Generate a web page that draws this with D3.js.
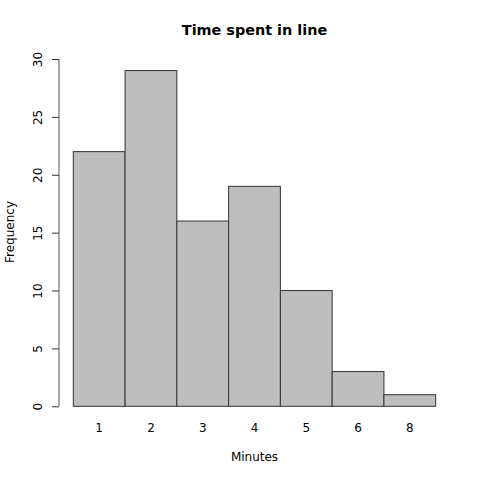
<!DOCTYPE html>
<html><head><meta charset="utf-8">
<script src="https://cdn.jsdelivr.net/npm/d3@7"></script>
<style>body{margin:0;background:#fff}svg{display:block}text{font-family:"DejaVu Sans",sans-serif}</style>
</head><body>
<svg id="c" width="480" height="480"></svg>
<script>
const categories = ["1","2","3","4","5","6","8"];
const values = [22,29,16,19,10,3,1];
const yTicks = [0,5,10,15,20,25,30];

const svg = d3.select("#c");
const x = d3.scaleBand().domain(categories).range([73.3,435.7]).padding(0);
const y = d3.scaleLinear().domain([0,30]).range([406.3,59]);

svg.selectAll("rect.bar").data(values).enter().append("rect")
  .attr("x",(d,i)=>x(categories[i])).attr("y",d=>y(d))
  .attr("width",x.bandwidth()).attr("height",d=>y(0)-y(d))
  .attr("fill","#bebebe").attr("stroke","#333").attr("stroke-width",1);

const yAxis = svg.append("g").attr("transform","translate(59,0)")
  .call(d3.axisLeft(y).tickValues(yTicks).tickSize(7).tickPadding(0).tickFormat(d3.format("d")));
yAxis.select(".domain").attr("stroke","#555").attr("d",`M0,${y(0)}V${y(30)}`);
yAxis.selectAll(".tick line").attr("stroke","#333");
yAxis.selectAll(".tick text").attr("transform","translate(-21.5,0) rotate(-90)")
  .attr("x",0).attr("dy","0.35em").attr("text-anchor","middle")
  .attr("font-size",12).attr("fill","#000").style("font-family","DejaVu Sans");

svg.selectAll("text.xl").data(categories).enter().append("text")
  .attr("class","xl").attr("x",d=>x(d)+x.bandwidth()/2).attr("y",432)
  .attr("text-anchor","middle").attr("font-size",12).text(d=>d);

svg.append("text").attr("x",254.5).attr("y",35).attr("text-anchor","middle")
  .attr("font-size",14.4).attr("font-weight","bold").text("Time spent in line");
svg.append("text").attr("x",254.5).attr("y",461).attr("text-anchor","middle")
  .attr("font-size",12).text("Minutes");
svg.append("text").attr("transform","translate(14,232) rotate(-90)").attr("text-anchor","middle")
  .attr("font-size",12).text("Frequency");
</script>
</body></html>
